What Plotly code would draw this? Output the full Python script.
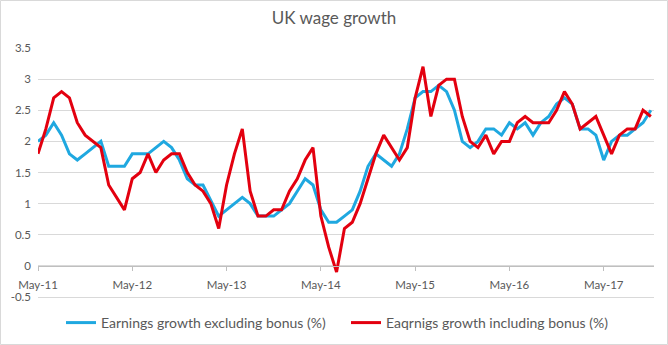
import pandas as pd
import plotly.graph_objects as go

# Monthly observations, May 2011 to Nov 2017
months = [d.strftime("%b-%y") for d in pd.date_range("2011-05-01", periods=79, freq="MS")]

excl_bonus = [
    2.0, 2.1, 2.3, 2.1, 1.8, 1.7, 1.8, 1.9, 2.0, 1.6, 1.6, 1.6,
    1.8, 1.8, 1.8, 1.9, 2.0, 1.9, 1.7, 1.4, 1.3, 1.3, 1.05, 0.8,
    0.9, 1.0, 1.1, 1.0, 0.8, 0.8, 0.8, 0.9, 1.0, 1.2, 1.4, 1.3,
    0.9, 0.7, 0.7, 0.8, 0.9, 1.2, 1.6, 1.8, 1.7, 1.6, 1.8, 2.2,
    2.7, 2.8, 2.8, 2.9, 2.8, 2.5, 2.0, 1.9, 2.0, 2.2, 2.2, 2.1,
    2.3, 2.2, 2.3, 2.1, 2.3, 2.4, 2.6, 2.7, 2.6, 2.2, 2.2, 2.1,
    1.7, 2.0, 2.1, 2.1, 2.2, 2.3, 2.5,
]

incl_bonus = [
    1.8, 2.2, 2.7, 2.8, 2.7, 2.3, 2.1, 2.0, 1.9, 1.3, 1.1, 0.9,
    1.4, 1.5, 1.8, 1.5, 1.7, 1.8, 1.8, 1.5, 1.3, 1.2, 1.0, 0.6,
    1.3, 1.8, 2.2, 1.2, 0.8, 0.8, 0.9, 0.9, 1.2, 1.4, 1.7, 1.9,
    0.8, 0.3, -0.1, 0.6, 0.7, 1.0, 1.4, 1.8, 2.1, 1.9, 1.7, 1.9,
    2.7, 3.2, 2.4, 2.9, 3.0, 3.0, 2.4, 2.0, 1.9, 2.1, 1.8, 2.0,
    2.0, 2.3, 2.4, 2.3, 2.3, 2.3, 2.5, 2.8, 2.6, 2.2, 2.3, 2.4,
    2.1, 1.8, 2.1, 2.2, 2.2, 2.5, 2.4,
]

x_ticks = ["May-11", "May-12", "May-13", "May-14", "May-15", "May-16", "May-17"]
y_ticks = [-0.5, 0, 0.5, 1, 1.5, 2, 2.5, 3, 3.5]
y_ticktext = ["-0.5", "0", "0.5", "1", "1.5", "2", "2.5", "3", "3.5"]

FONT = "Lato, 'Open Sans', sans-serif"
TEXT = "#595959"
GRID = "#D9D9D9"

W, H = 668, 345
ML, MR, MT, MB = 38, 14, 48, 48
y_min, y_max = -0.5, 3.5
x_range = [0, len(months) - 1 + 0.4]
pw = W - ML - MR
ph = H - MT - MB


def px_x(px):
    return (px - ML) / pw


def px_y(py):
    return (H - MB - py) / ph


fig = go.Figure()
fig.add_trace(go.Scatter(
    x=months, y=excl_bonus, mode="lines",
    name="Earnings growth excluding bonus (%)",
    line=dict(color="#1FA8E0", width=3), legend="legend",
    xaxis="x", yaxis="y",
))
fig.add_trace(go.Scatter(
    x=months, y=incl_bonus, mode="lines",
    name="Eaqrnigs growth including bonus (%)",
    line=dict(color="#E3000F", width=3), legend="legend2",
    xaxis="x2", yaxis="y",
))

# the labelled category axis crosses the value axis at zero
zero_frac = (0 - y_min) / (y_max - y_min)

legend_style = dict(orientation="h", yanchor="middle", xanchor="left",
                    font=dict(size=14, color=TEXT), itemwidth=30,
                    bgcolor="rgba(0,0,0,0)")

fig.update_layout(
    width=W, height=H,
    margin=dict(l=ML, r=MR, t=MT, b=MB, autoexpand=False),
    paper_bgcolor="white", plot_bgcolor="white",
    font=dict(family=FONT, color=TEXT, size=12),
    title=dict(text="UK wage growth", x=0.5, xanchor="center", y=1 - 18 / H,
               yanchor="middle", font=dict(size=17, color=TEXT, family=FONT)),
    showlegend=True,
    legend=dict(x=px_x(61), y=px_y(323), **legend_style),
    legend2=dict(x=px_x(346), y=px_y(323), **legend_style),
    # bottom axis: only its line, which serves as the -0.5 gridline
    xaxis=dict(
        type="category", range=x_range,
        showgrid=False, showline=True, linecolor=GRID, linewidth=1,
        ticks="", showticklabels=False, zeroline=False, automargin=False,
    ),
    # labelled axis on the zero line
    xaxis2=dict(
        type="category", overlaying="x", range=x_range,
        tickmode="array", tickvals=x_ticks, ticktext=x_ticks,
        showgrid=False, showline=True, linecolor="#BFBFBF", linewidth=1,
        ticks="outside", ticklen=4, tickcolor="#BFBFBF",
        anchor="free", position=zero_frac, side="bottom", ticklabelstandoff=4,
        tickfont=dict(size=11.5, color=TEXT), zeroline=False, automargin=False,
    ),
    yaxis=dict(
        range=[y_min, y_max], tickmode="array", tickvals=y_ticks, ticktext=y_ticktext,
        showgrid=True, gridcolor=GRID, gridwidth=1, zeroline=False,
        showline=False, ticks="", ticklabelstandoff=6, automargin=False,
        tickfont=dict(size=11.5, color=TEXT),
    ),
)

# thin frame around the whole chart
fig.add_shape(type="rect", xref="paper", yref="paper",
              x0=-ML / pw + 0.5 / pw, x1=1 + MR / pw - 0.5 / pw,
              y0=-MB / ph + 0.5 / ph, y1=1 + MT / ph - 0.5 / ph,
              line=dict(color="#D9D9D9", width=1), layer="below")

fig.write_html("out.html")
